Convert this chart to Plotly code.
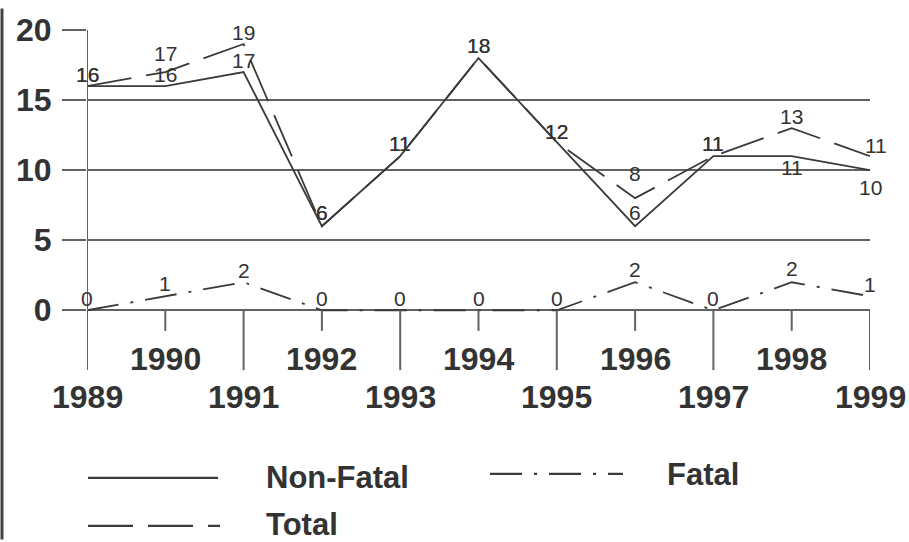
import plotly.graph_objects as go

# Injury counts per year
years = [1989, 1990, 1991, 1992, 1993, 1994, 1995, 1996, 1997, 1998, 1999]
non_fatal = [16, 16, 17, 6, 11, 18, 12, 6, 11, 11, 10]
fatal = [0, 1, 2, 0, 0, 0, 0, 2, 0, 2, 1]
total = [16, 17, 19, 6, 11, 18, 12, 8, 11, 13, 11]
y_ticks = [0, 5, 10, 15, 20]
series_names = ["Non-Fatal", "Fatal", "Total"]

# Canvas / plot-area geometry (pixels)
W, H = 909, 542
L, R, T, B = 87, 39, 22, 122
PW, PH = W - L - R, H - T - B
Y_MIN, Y_MAX = -7.83, 20

FONT = "Liberation Sans, Arial, sans-serif"
INK = "#333333"
LINE = "#3a3a3a"
GRID = "#626262"
DASH_FATAL = "32px,12px,3px,12px"
DASH_TOTAL = "45px,15px"

LONG_TICK, SHORT_TICK = -4.27, -1.47
ROW_LOW, ROW_HIGH = -6.2, -3.5

# vertical offset (px) of each value label from its point
nf_shift = [12, 12, 12, 14, 13, 13, 11, 14, 13, -11, -17]
fa_shift = [12, 13, 12, 12, 12, 12, 12, 13, 12, 14, 12]
to_shift = [12, 19, 12, 14, 13, 13, 11, 25, 13, 12, 11]
to_xshift = [0] * 10 + [6]


def px_x(p):
    return (p - L) / PW


def px_y(p):
    return (H - B - p) / PH


fig = go.Figure()
label_font = dict(family=FONT, size=21, color=INK)

series = [
    (series_names[1], fatal, DASH_FATAL, fa_shift, [0] * len(years)),
    (series_names[0], non_fatal, "solid", nf_shift, [0] * len(years)),
    (series_names[2], total, DASH_TOTAL, to_shift, to_xshift),
]

annotations = []
for name, vals, dash, yshift, xshift in series:
    fig.add_trace(go.Scatter(
        x=years, y=vals, name=name, mode="lines",
        line=dict(color=LINE, width=1.8, dash=dash), showlegend=False))
    for yr, v, dy, dx in zip(years, vals, yshift, xshift):
        annotations.append(dict(
            x=yr, y=v, xref="x", yref="y", text=str(v), showarrow=False,
            xanchor="center", yanchor="middle", yshift=dy, xshift=dx,
            font=label_font))

shapes = []

# vertical axis line and the hanging year ticks
shapes.append(dict(type="line", xref="x", yref="y", x0=years[0], x1=years[0],
                   y0=LONG_TICK, y1=y_ticks[-1], line=dict(color=GRID, width=2)))
for i, yr in enumerate(years):
    low = LONG_TICK if i % 2 == 0 else SHORT_TICK
    shapes.append(dict(type="line", xref="x", yref="y", x0=yr, x1=yr,
                       y0=0, y1=low, line=dict(color=GRID, width=2)))
    annotations.append(dict(
        x=yr, y=ROW_LOW if i % 2 == 0 else ROW_HIGH, xref="x", yref="y",
        text=str(yr), showarrow=False, xanchor="center", yanchor="middle",
        font=dict(family=FONT, size=32, color=INK, weight="bold")))

# legend drawn below the plot
legend_items = [
    (series_names[0], "solid", 88, 218, 479, 264, 479),
    (series_names[1], DASH_FATAL, 490, 623, 475, 665, 476),
    (series_names[2], DASH_TOTAL, 88, 220, 528, 264, 527),
]
for name, dash, x0, x1, ly, tx, ty in legend_items:
    shapes.append(dict(type="line", xref="paper", yref="paper",
                       x0=px_x(x0), x1=px_x(x1), y0=px_y(ly), y1=px_y(ly),
                       line=dict(color=LINE, width=2.2, dash=dash)))
    annotations.append(dict(
        x=px_x(tx), y=px_y(ty), xref="paper", yref="paper", text=name,
        showarrow=False, xanchor="left", yanchor="middle",
        font=dict(family=FONT, size=31, color=INK, weight="bold")))

# page frame on the left edge
shapes.append(dict(type="line", xref="paper", yref="paper",
                   x0=px_x(2), x1=px_x(2), y0=px_y(0), y1=px_y(H),
                   line=dict(color="#444444", width=3)))

fig.update_layout(
    width=W, height=H,
    margin=dict(l=L, r=R, t=T, b=B, pad=0),
    paper_bgcolor="white", plot_bgcolor="white",
    font=dict(family=FONT, color=INK),
    showlegend=False,
    shapes=shapes, annotations=annotations,
    xaxis=dict(range=[years[0], years[-1]], showgrid=False, zeroline=False,
               showline=False, showticklabels=False, ticks=""),
    yaxis=dict(range=[Y_MIN, Y_MAX], tickvals=y_ticks,
               ticktext=[str(v) for v in y_ticks],
               showgrid=True, gridcolor=GRID, gridwidth=2, zeroline=False,
               showline=False, ticks="outside", ticklen=24, tickwidth=2,
               tickcolor=GRID, ticklabelstandoff=4,
               tickfont=dict(family=FONT, size=32, color=INK, weight="bold")),
)

fig.write_html("out.html")
